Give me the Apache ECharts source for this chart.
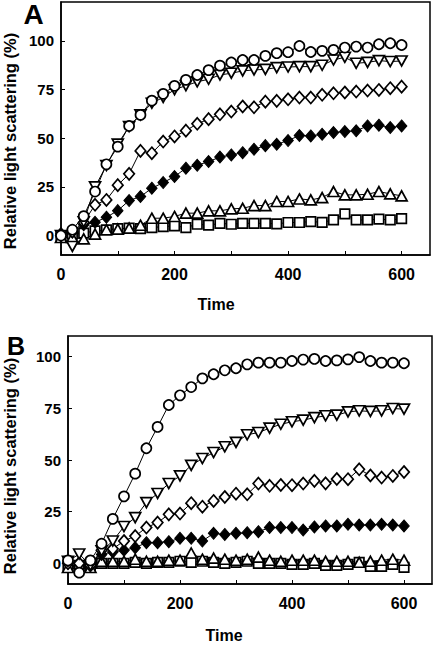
<!DOCTYPE html>
<html>
<head>
<meta charset="utf-8">
<script src="https://cdn.jsdelivr.net/npm/echarts@6/dist/echarts.min.js"></script>
<style>
html,body{margin:0;padding:0;background:#fff;}
#chart{width:437px;height:645px;}
</style>
</head>
<body>
<div id="chart"></div>
<script>
// ---- data ----
const times = [0,20,40,60,80,100,120,140,160,180,200,220,240,260,280,300,320,340,360,380,400,420,440,460,480,500,520,540,560,580,600];

// Panel A
const aCircle   = [0,3,10,22.6,36.6,45.7,56.3,62,69.3,72.8,76.9,80,82.5,85,87.3,88.9,90.2,90.2,92.3,93.7,94.2,97.4,94.3,94.9,95.4,96.6,97.1,96.6,98.3,98.8,97.9];
const aTriDown  = [0,-5.6,7,25,36,47,56,62,68,71,75,77,79,80.3,82.5,83.4,84.6,85.1,85.4,86.3,86.6,86.8,86.8,87.5,90.2,91.6,88.5,89,89.9,89.4,89.7];
const aDiamond  = [0,2,6.7,15.8,18.3,25.9,31.7,43.5,42.3,48.3,50.9,53.9,57.4,59.8,62.3,63.7,66.3,65.9,68.8,69.2,70,70.9,70.9,72.3,73.1,73.5,74,74.5,74.8,75.7,76.5];
const aDiamondF = [1,2,5.5,6.8,9.4,12.8,18,20,24.3,27.2,30.3,34.6,36.1,38,40.3,41.4,42.6,44.3,46.2,46.9,48.8,51.4,51.2,52,52.9,53.4,53.8,56.3,56.7,55.5,56.3];
const aTriUp    = [-1,-1,-1.7,0.7,3,3.3,3.8,5.3,8.9,8.9,9.8,11.5,11.5,12.7,12.7,13.7,14,15.4,15.4,17.5,17.5,18.8,18.3,19.5,22.6,20.9,20.9,21.2,22.6,21.4,20.4];
const aSquare   = [-0.5,0.7,1.2,2.4,2.9,3.6,3.8,3.6,4.1,4.6,5,4.1,5.8,5.3,6.3,5.8,6.3,6.3,6.3,6,6.7,6.7,7.2,6.8,8,11.1,8,8,8.4,8,8.7];

// Panel B
const bCircle   = [1.4,-4.5,1.4,9.5,21.5,32.4,43.4,55.7,66,76.6,81.3,85.3,89.5,91.5,93.4,94.4,96.3,97.1,97.1,97.1,97.9,98.6,98.9,97.9,98.2,98.7,99.8,97.9,97.1,97.1,96.8];
const bTriDown  = [1,4.5,-1,6,10.8,17.8,22.1,29.4,33.8,38.6,42.3,47.4,50.7,53.6,56.4,58.5,62.2,63.3,65.4,67.3,68.5,69.3,70.5,71.4,71.7,73.3,73.8,73.5,73.8,74.9,74.6];
const bDiamond  = [0,0,-1,6.3,7,10.8,13.2,17.3,19.7,23.7,24.1,29.1,27.4,30.2,32.1,33.7,33.4,38.6,37.5,37.9,37.8,38.6,39.9,38.7,40.8,40.7,45.5,42.5,41.5,42.3,44.2];
const bDiamondF = [0,0,0,4.3,5.5,6.3,7.6,10,10,10.5,12.1,12.1,10.8,14.5,14,14.5,14.8,15.3,17.3,17.3,17.3,16.1,17.6,18.1,18.1,18.9,18.5,18.5,18.9,18.5,18.1];
const bTriUp    = [-2,0,-2,1,1,1,2,1,1,1.5,1.5,5,2,2.5,2,1.5,2,3,1.5,1,1.5,1.5,1.5,1,1,1,0.5,1,1.5,2,1.5];
const bSquare   = [-1,-1,-1,0,0,0,0.5,0,0.5,0.5,1,0.5,1,0.5,0,0.5,1,0,0,0,-0.5,-0.5,0,-1,-1,-0.5,0.5,-1.5,-1.5,-0.5,-2];

// axis ticks / labels
const xTicks = [0,100,200,300,400,500,600];
const xLabels = [0,200,400,600];
const yTicks = [0,25,50,75,100];
const yLabels = [0,25,50,75,100];

const panelLetters = ['A','B'];
const yName = 'Relative light scattering (%)';
const xName = 'Time';

// ---- chart ----
const FONT = "'Liberation Sans', Arial, Helvetica, sans-serif";
const chart = echarts.init(document.getElementById('chart'), null, {renderer: 'svg'});

function zip(vals){ return times.map((t,i)=>[t, vals[i]]); }

function mkSeries(idx, vals, kind){
  const base = {
    type: 'line',
    xAxisIndex: idx, yAxisIndex: idx,
    data: zip(vals),
    lineStyle: {color: '#000', width: 1},
    symbolKeepAspect: true,
    emphasis: {disabled: true},
    silent: true,
    itemStyle: {color: '#fff', borderColor: '#000', borderWidth: 1.7}
  };
  if (kind === 'circle') { base.symbol = 'circle'; base.symbolSize = 10; }
  if (kind === 'square') { base.symbol = 'rect'; base.symbolSize = 9.5; }
  if (kind === 'triUp') { base.symbol = 'triangle'; base.symbolSize = [11, 10]; }
  if (kind === 'triDown') { base.symbol = 'triangle'; base.symbolSize = [11, 10]; base.symbolRotate = 180; }
  if (kind === 'diamond') { base.symbol = 'diamond'; base.symbolSize = [10.5, 12]; }
  if (kind === 'diamondF') { base.symbol = 'diamond'; base.symbolSize = [10.5, 12]; base.itemStyle = {color: '#000', borderColor: '#000', borderWidth: 1}; }
  return base;
}

function mkX(idx){
  return {
    type: 'value', gridIndex: idx, min: 0, max: 650,
    axisLine: {show: true, onZero: false, lineStyle: {color: '#000', width: 1.5}},
    axisTick: {show: true, inside: true, length: 4, customValues: xTicks, lineStyle: {color: '#000', width: 1}},
    axisLabel: {customValues: xLabels, color: '#000', fontFamily: FONT, fontWeight: 'bold', fontSize: 16, margin: 11},
    splitLine: {show: false}
  };
}
function mkY(idx, min, max){
  return {
    type: 'value', gridIndex: idx, min: min, max: max,
    axisLine: {show: true, onZero: false, lineStyle: {color: '#000', width: 1.5}},
    axisTick: {show: true, inside: true, length: 4, customValues: yTicks, lineStyle: {color: '#000', width: 1}},
    axisLabel: {customValues: yLabels, color: '#000', fontFamily: FONT, fontWeight: 'bold', fontSize: 15, margin: 7},
    splitLine: {show: false}
  };
}

function txt(text, x, y, size, rot){
  return {
    type: 'text', x: x, y: y, rotation: rot || 0, silent: true,
    style: {text: text, fill: '#000', font: 'bold ' + size + 'px ' + FONT, textAlign: 'center', textVerticalAlign: 'middle'}
  };
}

chart.setOption({
  animation: false,
  backgroundColor: '#fff',
  grid: [
    {left: 61, top: 2, width: 369, height: 253, show: true, borderColor: '#000', borderWidth: 1.5, backgroundColor: 'transparent', containLabel: false},
    {left: 68, top: 336, width: 364, height: 248, show: true, borderColor: '#000', borderWidth: 1.5, backgroundColor: 'transparent', containLabel: false}
  ],
  xAxis: [mkX(0), mkX(1)],
  yAxis: [mkY(0, -10, 120), mkY(1, -10, 110)],
  series: [
    mkSeries(0, aSquare, 'square'),
    mkSeries(0, aTriUp, 'triUp'),
    mkSeries(0, aDiamondF, 'diamondF'),
    mkSeries(0, aDiamond, 'diamond'),
    mkSeries(0, aTriDown, 'triDown'),
    mkSeries(0, aCircle, 'circle'),
    mkSeries(1, bSquare, 'square'),
    mkSeries(1, bTriUp, 'triUp'),
    mkSeries(1, bDiamondF, 'diamondF'),
    mkSeries(1, bDiamond, 'diamond'),
    mkSeries(1, bTriDown, 'triDown'),
    mkSeries(1, bCircle, 'circle')
  ],
  graphic: [
    txt(panelLetters[0], 33.5, 14, 28),
    txt(panelLetters[1], 16, 346, 25),
    txt(yName, 10, 141, 16.5, Math.PI/2),
    txt(yName, 10, 466, 16.5, Math.PI/2),
    txt(xName, 216, 304, 16),
    txt(xName, 224, 635, 16)
  ]
});
</script>
</body>
</html>
